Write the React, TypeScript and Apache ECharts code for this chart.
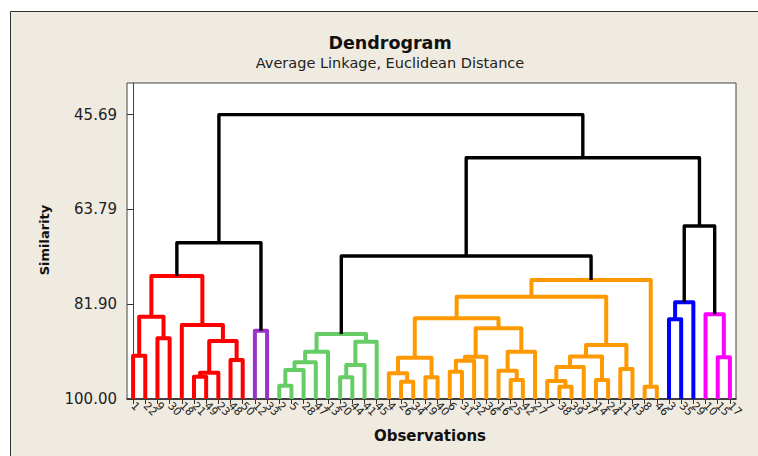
import React, { useEffect, useRef } from "react";
import * as echarts from "echarts";

// Leaf order along the x axis (observation numbers)
const leafLabels = [
  "1", "22", "9", "30", "18", "21", "49", "23", "48", "50",
  "12", "33",
  "2", "5", "28", "47", "13", "20", "44", "41", "45",
  "4", "26", "34", "19", "40", "6", "31", "32", "36", "16", "25", "42", "27",
  "7", "38", "39", "37", "14", "24", "11", "43", "8", "46",
  "3", "35", "29",
  "10", "15", "17",
];

// Y axis tick labels (similarity)
const yTicks = [45.69, 63.79, 81.9, 100.0];
const yMin = 39.64;
const yMax = 100;

// Merges: [id, left child, right child, similarity, cluster]
const redMerges: [string, string, string, number, string][] = [
  ["r1", "1", "22", 91.73, "red"],
  ["r2", "9", "30", 88.41, "red"],
  ["r3", "r1", "r2", 84.28, "red"],
  ["r4", "21", "49", 95.74, "red"],
  ["r5", "r4", "23", 94.98, "red"],
  ["r6", "48", "50", 92.55, "red"],
  ["r7", "r5", "r6", 88.92, "red"],
  ["r8", "18", "r7", 85.87, "red"],
  ["r9", "r3", "r8", 76.51, "red"],
];
const purpleMerges: [string, string, string, number, string][] = [
  ["v1", "12", "33", 86.95, "purple"],
];
const greenMerges: [string, string, string, number, string][] = [
  ["g1", "2", "5", 97.46, "green"],
  ["g2", "g1", "28", 94.46, "green"],
  ["g3", "g2", "47", 92.99, "green"],
  ["g4", "g3", "13", 90.97, "green"],
  ["g5", "20", "44", 95.86, "green"],
  ["g6", "g5", "41", 93.51, "green"],
  ["g7", "g6", "45", 89.06, "green"],
  ["g8", "g4", "g7", 87.58, "green"],
];
const orangeMerges: [string, string, string, number, string][] = [
  ["o1", "26", "34", 96.7, "orange"],
  ["o2", "4", "o1", 95.09, "orange"],
  ["o3", "19", "40", 95.86, "orange"],
  ["o4", "o2", "o3", 92.11, "orange"],
  ["o5", "6", "31", 94.79, "orange"],
  ["o6", "o5", "32", 92.68, "orange"],
  ["o7", "o6", "36", 91.92, "orange"],
  ["o8", "25", "42", 96.37, "orange"],
  ["o9", "16", "o8", 94.59, "orange"],
  ["o10", "o9", "27", 90.97, "orange"],
  ["o11", "o7", "o10", 86.5, "orange"],
  ["o12", "o4", "o11", 84.59, "orange"],
  ["o13", "38", "39", 97.65, "orange"],
  ["o14", "7", "o13", 96.56, "orange"],
  ["o15", "o14", "37", 93.89, "orange"],
  ["o16", "14", "24", 96.37, "orange"],
  ["o17", "o15", "o16", 91.88, "orange"],
  ["o18", "11", "43", 94.27, "orange"],
  ["o19", "o17", "o18", 89.69, "orange"],
  ["o20", "o12", "o19", 80.46, "orange"],
  ["o21", "8", "46", 97.65, "orange"],
  ["o22", "o20", "o21", 77.27, "orange"],
];
const blueMerges: [string, string, string, number, string][] = [
  ["b1", "3", "35", 84.78, "blue"],
  ["b2", "b1", "29", 81.53, "blue"],
];
const magentaMerges: [string, string, string, number, string][] = [
  ["m1", "15", "17", 92.04, "magenta"],
  ["m2", "10", "m1", 83.82, "magenta"],
];
const blackMerges: [string, string, string, number, string][] = [
  ["k1", "r9", "v1", 70.15, "black"],
  ["k2", "g8", "o22", 72.69, "black"],
  ["k3", "b2", "m2", 66.96, "black"],
  ["k4", "k2", "k3", 53.91, "black"],
  ["k5", "k1", "k4", 45.69, "black"],
];

const clusterColors: Record<string, string> = {
  red: "#FF0000",
  purple: "#9933CC",
  green: "#66CC66",
  orange: "#FF9900",
  blue: "#0000FF",
  magenta: "#FF00FF",
  black: "#000000",
};

const FONT = "DejaVu Sans";

function buildSeries() {
  const xPos: Record<string, number> = {};
  const hPos: Record<string, number> = {};
  leafLabels.forEach((l, i) => {
    xPos[l] = i;
    hPos[l] = 100;
  });
  const groups = [
    redMerges,
    purpleMerges,
    greenMerges,
    orangeMerges,
    blueMerges,
    magentaMerges,
    blackMerges,
  ];
  const series: any[] = [];
  groups.forEach((group) => {
    const data: number[][] = [];
    let cluster = "black";
    group.forEach(([id, l, r, sim, c]) => {
      cluster = c;
      const xl = xPos[l];
      const xr = xPos[r];
      data.push([xl, hPos[l], xr, hPos[r], sim]);
      xPos[id] = (xl + xr) / 2;
      hPos[id] = sim;
    });
    const color = clusterColors[cluster];
    const width = cluster === "black" ? 3.4 : 4;
    series.push({
      type: "custom",
      name: cluster,
      xAxisIndex: 1,
      yAxisIndex: 0,
      clip: false,
      z: cluster === "black" ? 3 : 2,
      encode: { x: [0, 2], y: [1, 3, 4] },
      data,
      renderItem: (_params: any, api: any) => {
        const x0 = api.value(0);
        const y0 = api.value(1);
        const x1 = api.value(2);
        const y1 = api.value(3);
        const h = api.value(4);
        const pts = [
          api.coord([x0, y0]),
          api.coord([x0, h]),
          api.coord([x1, h]),
          api.coord([x1, y1]),
        ];
        return {
          type: "polyline",
          shape: { points: pts },
          style: {
            stroke: color,
            lineWidth: width,
            fill: null,
            lineJoin: "round",
          },
        };
      },
    });
  });
  return series;
}

export default function App() {
  const ref = useRef<HTMLDivElement>(null);
  useEffect(() => {
    if (!ref.current) return;
    const chart = echarts.init(ref.current, undefined, { renderer: "svg" });
    const option: any = {
      animation: false,
      backgroundColor: "#EFEBE1",
      grid: {
        left: 127,
        right: 22,
        top: 83,
        bottom: 57,
        show: true,
        backgroundColor: "#FFFFFF",
        borderColor: "#444444",
        borderWidth: 1,
      },
      xAxis: [
        {
          type: "category",
          data: leafLabels,
          boundaryGap: true,
          position: "bottom",
          axisLine: { show: true, lineStyle: { color: "#222", width: 1.5 } },
          axisTick: {
            show: true,
            alignWithLabel: true,
            interval: 0,
            length: 5,
            lineStyle: { color: "#333" },
          },
          axisLabel: {
            interval: 0,
            rotate: -45,
            fontSize: 11,
            fontFamily: FONT,
            color: "#222",
            margin: 5,
          },
          splitLine: { show: false },
        },
        {
          type: "value",
          min: -0.5,
          max: 49.5,
          show: false,
          splitLine: { show: false },
        },
      ],
      yAxis: {
        type: "value",
        inverse: true,
        min: yMin,
        max: yMax,
        axisLine: { show: true, lineStyle: { color: "#444" } },
        axisTick: {
          show: true,
          length: 6,
          customValues: yTicks,
          lineStyle: { color: "#333" },
        },
        axisLabel: {
          customValues: yTicks,
          formatter: (v: number) => v.toFixed(2),
          fontSize: 15,
          fontFamily: FONT,
          color: "#222",
          margin: 10,
        },
        splitLine: { show: false },
      },
      graphic: [
        { type: "rect", shape: { x: 0, y: 0, width: 758, height: 11 }, style: { fill: "#FFFFFF" }, silent: true },
        { type: "rect", shape: { x: 0, y: 0, width: 10, height: 456 }, style: { fill: "#FFFFFF" }, silent: true },
        { type: "line", shape: { x1: 10.5, y1: 11.5, x2: 758, y2: 11.5 }, style: { stroke: "#333", lineWidth: 1 }, silent: true },
        { type: "line", shape: { x1: 10.5, y1: 11.5, x2: 10.5, y2: 456 }, style: { stroke: "#333", lineWidth: 1 }, silent: true },
        {
          type: "text",
          x: 390,
          y: 43,
          style: {
            text: "Dendrogram",
            font: `bold 17.5px "${FONT}"`,
            fill: "#111",
            textAlign: "center",
            textVerticalAlign: "middle",
          },
        },
        {
          type: "text",
          x: 390,
          y: 63,
          style: {
            text: "Average Linkage, Euclidean Distance",
            font: `14.5px "${FONT}"`,
            fill: "#222",
            textAlign: "center",
            textVerticalAlign: "middle",
          },
        },
        {
          type: "text",
          x: 430,
          y: 436,
          style: {
            text: "Observations",
            font: `bold 15px "${FONT}"`,
            fill: "#111",
            textAlign: "center",
            textVerticalAlign: "middle",
          },
        },
        {
          type: "text",
          x: 44,
          y: 240,
          rotation: Math.PI / 2,
          style: {
            text: "Similarity",
            font: `bold 13px "${FONT}"`,
            fill: "#111",
            textAlign: "center",
            textVerticalAlign: "middle",
          },
        },
      ],
      series: buildSeries(),
    };
    chart.setOption(option);
    return () => chart.dispose();
  }, []);
  return (
    <div
      ref={ref}
      style={{ position: "fixed", left: 0, top: 0, width: 758, height: 456 }}
    />
  );
}
